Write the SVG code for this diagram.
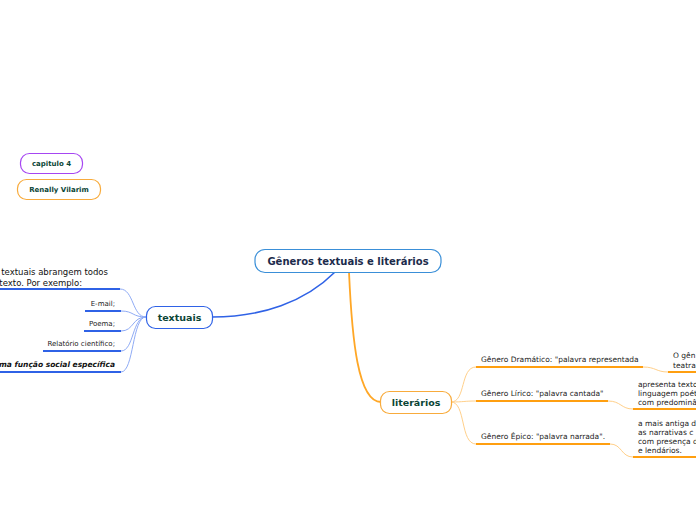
<svg xmlns="http://www.w3.org/2000/svg" width="696" height="520" viewBox="0 0 696 520">
<style>
text{font-family:"DejaVu Sans",Verdana,sans-serif;}
.node{fill:#fff;stroke-width:1.2;}
.nt{font-weight:bold;fill:#0b4536;text-anchor:middle;}
.lbl{font-size:7px;fill:#222;}
.rl{font-size:7.5px;fill:#222;}
.big{font-size:8.5px;fill:#111;}
.bu{stroke:#2f62e6;stroke-width:2;fill:none;}
.bc{stroke:#8fabf5;stroke-width:1;fill:none;}
.ou{stroke:#ff9f10;stroke-width:2;fill:none;}
.oc{stroke:#ffd08a;stroke-width:1;fill:none;}
</style>
<rect width="696" height="520" fill="#fff"/>
<g id="connectors">
<path d="M335 272 C305 302 262 317 212 317" stroke="#2f62e6" stroke-width="1.6" fill="none"/>
<path d="M349 272 C352 340 358 402 381 402" stroke="#ffa726" stroke-width="1.8" fill="none"/>
<path class="bc" d="M146 317 C132 317 134 289 120 289"/>
<path class="bc" d="M146 317 C132 317 134 311 121 311"/>
<path class="bc" d="M146 317 C132 317 134 331 121 331"/>
<path class="bc" d="M146 317 C132 317 134 351 121 351"/>
<path class="bc" d="M146 317 C132 317 134 372 121 372"/>
<path class="oc" d="M451 402 C466 402 460 367 476 367"/>
<path class="oc" d="M451 402 C464 402 464 401 476 401"/>
<path class="oc" d="M451 402 C466 402 460 444 476 444"/>
<path class="oc" d="M643 367 C656 367 656 372 668 372"/>
<path class="oc" d="M608 401 C621 401 621 409 633 409"/>
<path class="oc" d="M610 444 C622 444 621 457 633 457"/>
</g>
<g id="central">
<rect class="node" x="255" y="249.5" width="186" height="23" rx="10" stroke="#3a8fd8"/>
<text x="348" y="265" font-size="10" font-weight="bold" fill="#1b2b4b" text-anchor="middle">Gêneros textuais e literários</text>
</g>
<g id="capitulo">
<rect class="node" x="20.5" y="153.5" width="62" height="20" rx="9" stroke="#a646f2"/>
<text class="nt" x="51.5" y="166" font-size="7">capitulo 4</text>
</g>
<g id="renally">
<rect class="node" x="17.5" y="179.5" width="83" height="20" rx="9" stroke="#f8ab3c"/>
<text class="nt" x="59" y="192" font-size="7">Renally Vilarim</text>
</g>
<g id="textuais">
<rect class="node" x="146.5" y="306.5" width="66" height="22" rx="9" stroke="#2f62e6"/>
<text class="nt" x="179.5" y="321" font-size="9.5">textuais</text>
</g>
<g id="t-intro">
<text class="big" x="108" y="275" text-anchor="end">textuais abrangem todos</text>
<text class="big" x="82" y="286" text-anchor="end">texto. Por exemplo:</text>
<line class="bu" x1="0" y1="289" x2="120" y2="289"/>
</g>
<g id="t-email">
<text class="lbl" x="115" y="306" text-anchor="end">E-mail;</text>
<line class="bu" x1="85" y1="311" x2="121" y2="311"/>
</g>
<g id="t-poema">
<text class="lbl" x="115" y="326" text-anchor="end">Poema;</text>
<line class="bu" x1="84" y1="331" x2="121" y2="331"/>
</g>
<g id="t-relatorio">
<text class="lbl" x="115" y="346" text-anchor="end">Relatório científico;</text>
<line class="bu" x1="43" y1="351" x2="121" y2="351"/>
</g>
<g id="t-funcao">
<text x="115" y="367" text-anchor="end" font-size="7.5" font-weight="bold" font-style="italic" fill="#111">ma função social específica</text>
<line class="bu" x1="0" y1="372" x2="121" y2="372"/>
</g>
<g id="literarios">
<rect class="node" x="380.5" y="391.5" width="71" height="22" rx="9" stroke="#f8ab3c"/>
<text class="nt" x="416" y="406" font-size="9.5">literários</text>
</g>
<g id="l-dramatico">
<text class="rl" x="481" y="362">Gênero Dramático: "palavra representada</text>
<line class="ou" x1="476" y1="367" x2="643" y2="367"/>
</g>
<g id="l-dramatico-d">
<text class="rl" x="673" y="358">O gên</text>
<text class="rl" x="673" y="368">teatra</text>
<line class="ou" x1="668" y1="372" x2="696" y2="372"/>
</g>
<g id="l-lirico">
<text class="rl" x="481" y="396">Gênero Lírico: "palavra cantada"</text>
<line class="ou" x1="476" y1="401" x2="608" y2="401"/>
</g>
<g id="l-lirico-d">
<text class="rl" x="638" y="387">apresenta texto</text>
<text class="rl" x="638" y="396">linguagem poét</text>
<text class="rl" x="638" y="405">com predominâ</text>
<line class="ou" x1="633" y1="409" x2="696" y2="409"/>
</g>
<g id="l-epico">
<text class="rl" x="481" y="439">Gênero Épico: "palavra narrada".</text>
<line class="ou" x1="476" y1="444" x2="610" y2="444"/>
</g>
<g id="l-epico-d">
<text class="rl" x="638" y="426">a mais antiga d</text>
<text class="rl" x="638" y="435">as narrativas  c</text>
<text class="rl" x="638" y="444">com presença d</text>
<text class="rl" x="638" y="453">e lendários.</text>
<line class="ou" x1="633" y1="457" x2="696" y2="457"/>
</g>
</svg>
